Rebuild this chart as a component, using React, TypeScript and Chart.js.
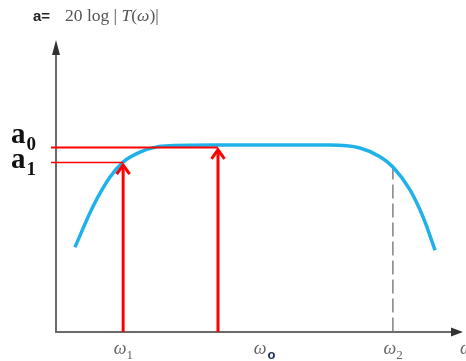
import React, { useEffect, useRef } from 'react';
import { Chart, registerables } from 'chart.js';

Chart.register(...registerables);

// Frequency response curve (arbitrary units)
const freq = [4.7, 9.2, 13.4, 16.7, 20.9, 25.1, 28.4, 40, 55, 68, 75.6, 80.6, 83.8, 88.1, 91.3, 94.3];
const gain = [29, 43, 53, 58.2, 61.6, 63.4, 63.8, 64, 64, 64, 63, 60, 56.5, 48.6, 39.4, 28];

// Levels a0, a1
const levelSubs = ['0', '1'];
const levelValues = [63.4, 58.2];
const levelEndFreq = [40.3, 16.7];

// Red arrows at ω1, ωo
const arrowFreq = [16.7, 40.3];
const arrowLevel = [58.2, 63.4];

// Cutoff ω2 dashed line
const cutoffFreq = 83.8;
const cutoffLevel = 57;

// Tick labels along the frequency axis
const tickFreq = [16.7, 51.5, 83.8];
const tickSubs = ['1', 'o', '2'];

const SERIF = '"Liberation Serif", "DejaVu Serif", serif';
const SANS = '"Liberation Sans", Arial, sans-serif';

const drawPlugin = {
  id: 'bodeDecor',
  beforeDatasetsDraw(chart: any) {
    const { ctx, chartArea, scales } = chart;
    const xs = scales.x, ys = scales.y;
    ctx.save();
    // dashed cutoff line
    const cx = xs.getPixelForValue(cutoffFreq);
    ctx.strokeStyle = '#8a8a8a';
    ctx.lineWidth = 1.6;
    ctx.setLineDash([14, 5]);
    ctx.beginPath();
    ctx.moveTo(cx, ys.getPixelForValue(cutoffLevel));
    ctx.lineTo(cx, chartArea.bottom);
    ctx.stroke();
    ctx.setLineDash([]);

    // axes
    ctx.strokeStyle = '#6a6a6a';
    ctx.lineWidth = 2;
    ctx.beginPath();
    ctx.moveTo(chartArea.left, chartArea.top + 10);
    ctx.lineTo(chartArea.left, chartArea.bottom);
    ctx.lineTo(chartArea.right - 4, chartArea.bottom);
    ctx.stroke();
    ctx.fillStyle = '#333';
    ctx.beginPath();
    ctx.moveTo(chartArea.left, chartArea.top);
    ctx.lineTo(chartArea.left - 4, chartArea.top + 15);
    ctx.lineTo(chartArea.left + 4, chartArea.top + 15);
    ctx.closePath();
    ctx.fill();
    ctx.beginPath();
    ctx.moveTo(chartArea.right + 5, chartArea.bottom);
    ctx.lineTo(chartArea.right - 7, chartArea.bottom - 4.5);
    ctx.lineTo(chartArea.right - 7, chartArea.bottom + 4.5);
    ctx.closePath();
    ctx.fill();

    // top axis title
    ctx.textBaseline = 'alphabetic';
    ctx.textAlign = 'left';
    ctx.fillStyle = '#222';
    ctx.font = `bold 15px ${SANS}`;
    ctx.fillText('a=', 33, 21);
    ctx.fillStyle = '#555';
    const fs = 17.5;
    ctx.font = `${fs}px ${SERIF}`;
    let tx = 65;
    ctx.fillText('20 log | ', tx, 21);
    tx += ctx.measureText('20 log | ').width;
    ctx.font = `italic ${fs}px ${SERIF}`;
    ctx.fillText('T', tx, 21);
    tx += ctx.measureText('T').width;
    ctx.font = `${fs}px ${SERIF}`;
    ctx.fillText('(', tx, 21);
    tx += ctx.measureText('(').width;
    ctx.font = `italic ${fs}px ${SERIF}`;
    ctx.fillText('ω', tx, 21);
    tx += ctx.measureText('ω').width;
    ctx.font = `${fs}px ${SERIF}`;
    ctx.fillText(')|', tx, 21);

    // tick labels
    tickFreq.forEach((f, i) => {
      const px = xs.getPixelForValue(f);
      ctx.font = `italic 18px ${SERIF}`;
      const w = ctx.measureText('ω').width;
      ctx.fillStyle = '#666';
      ctx.textAlign = 'left';
      ctx.fillText('ω', px - w / 2 - 3, 354);
      if (tickSubs[i] === 'o') {
        ctx.fillStyle = '#1a2a5a';
        ctx.font = `bold 13px ${SANS}`;
        ctx.fillText('o', px - w / 2 - 3 + w + 1, 359);
      } else {
        ctx.fillStyle = '#666';
        ctx.font = `13px ${SERIF}`;
        ctx.fillText(tickSubs[i], px - w / 2 - 3 + w, 359);
      }
    });
    // axis end label
    ctx.fillStyle = '#666';
    ctx.font = `italic 18px ${SERIF}`;
    ctx.fillText('ω', chartArea.right + 2, 354);

    // level labels
    levelValues.forEach((v, i) => {
      const py = ys.getPixelForValue(v);
      const base = i === 0 ? py - 4 : py + 6;
      ctx.fillStyle = '#111';
      ctx.font = `bold 29px ${SERIF}`;
      ctx.textAlign = 'left';
      ctx.fillText('a', 11, base);
      const w = ctx.measureText('a').width;
      ctx.font = `bold 19px ${SERIF}`;
      ctx.fillText(levelSubs[i], 11 + w + 1, base + 7);
    });
    ctx.restore();
  },
  afterDatasetsDraw(chart: any) {
    const { ctx, chartArea, scales } = chart;
    const xs = scales.x, ys = scales.y;
    ctx.save();
    ctx.strokeStyle = '#ff0000';
    levelValues.forEach((v, i) => {
      const py = Math.round(ys.getPixelForValue(v)) + 0.5;
      ctx.lineWidth = i === 0 ? 2 : 1.5;
      ctx.beginPath();
      ctx.moveTo(chartArea.left - 5, py);
      ctx.lineTo(xs.getPixelForValue(levelEndFreq[i]), py);
      ctx.stroke();
    });
    arrowFreq.forEach((f, i) => {
      const px = xs.getPixelForValue(f);
      const tip = ys.getPixelForValue(arrowLevel[i]) + 1;
      ctx.lineWidth = 3;
      ctx.beginPath();
      ctx.moveTo(px, chartArea.bottom);
      ctx.lineTo(px, tip + 2);
      ctx.stroke();
      ctx.beginPath();
      ctx.moveTo(px - 6.5, tip + 11);
      ctx.lineTo(px, tip + 2);
      ctx.lineTo(px + 6.5, tip + 11);
      ctx.stroke();
    });
    ctx.restore();
  },
};

export default function App() {
  const ref = useRef<HTMLCanvasElement>(null);
  useEffect(() => {
    document.body.style.margin = '0';
    const chart = new Chart(ref.current!, {
      type: 'line',
      data: {
        datasets: [
          {
            data: freq.map((f, i) => ({ x: f, y: gain[i] })),
            borderColor: '#1fb2ea',
            borderWidth: 3.5,
            pointRadius: 0,
            tension: 0.4,
            cubicInterpolationMode: 'monotone',
            fill: false,
          },
        ],
      },
      options: {
        responsive: false,
        animation: false,
        layout: { padding: { left: 56, top: 40, right: 8, bottom: 29 } },
        plugins: { legend: { display: false }, tooltip: { enabled: false } },
        scales: {
          x: { type: 'linear', min: 0, max: 100, display: false },
          y: { type: 'linear', min: 0, max: 100, display: false },
        },
      },
      plugins: [drawPlugin],
    } as any);
    return () => chart.destroy();
  }, []);
  return (
    <div style={{ position: 'absolute', left: 0, top: 0, width: 466, height: 361, background: '#fff' }}>
      <canvas ref={ref} width={466} height={361} style={{ display: 'block' }} />
    </div>
  );
}
